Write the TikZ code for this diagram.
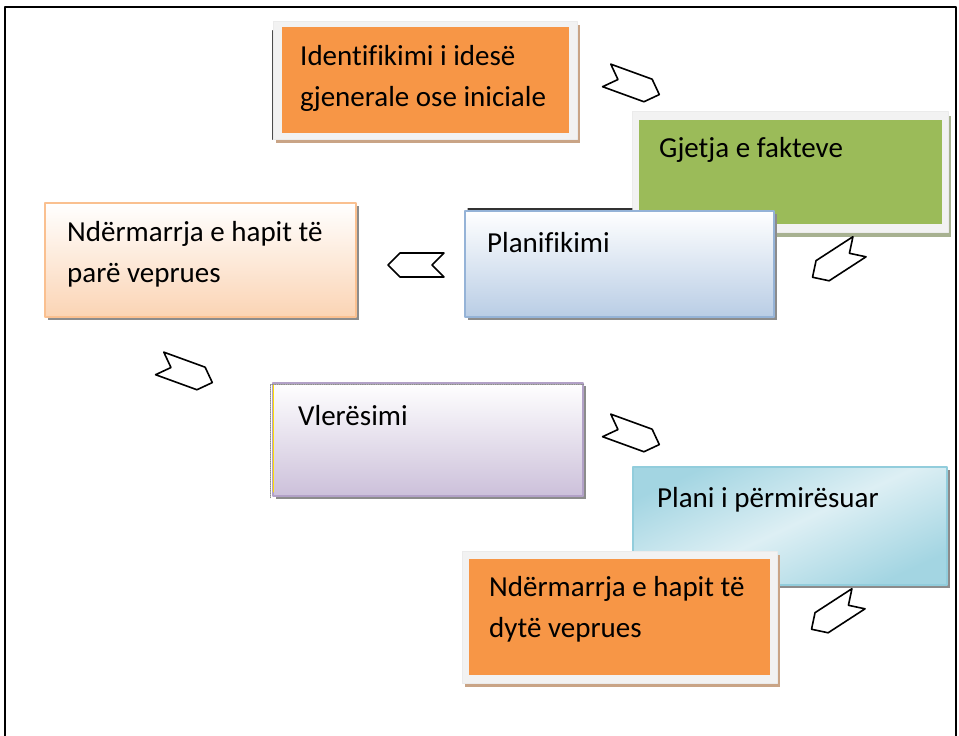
\documentclass[tikz,border=0pt]{standalone}
\usepackage{fontspec}
\setmainfont{Carlito}[Ligatures=NoCommon]
\usetikzlibrary{shapes.symbols,shadows}
\definecolor{orangeA}{HTML}{F79646}
\definecolor{greenA}{HTML}{9BBB59}
\definecolor{blueB}{HTML}{95B3D7}\definecolor{blueF}{HTML}{B9CDE5}
\definecolor{peachB}{HTML}{FAC090}\definecolor{peachF}{HTML}{FBD4B4}
\definecolor{lilacB}{HTML}{B2A1C7}\definecolor{lilacF}{HTML}{CCC0DA}
\definecolor{aquaB}{HTML}{92CDDC}\definecolor{aquaD}{HTML}{A3D5E2}\definecolor{aquaL}{HTML}{DDEFF4}
\definecolor{tanS}{HTML}{C9A486}\definecolor{olivS}{HTML}{A7B190}
\begin{document}
\begin{tikzpicture}[x=1pt, y=-1pt, line join=round, line cap=round,
	sheet/.style={fill=black!5, draw=black!8, line width=.6pt, inner sep=0pt,
		drop shadow={shadow xshift=3pt, shadow yshift=-4pt, opacity=1, fill=#1}},
	card/.style={fill=#1, inner sep=0pt},
	gradcard/.style 2 args={draw=#1, line width=1.6pt, top color=white, bottom color=#2, inner sep=0pt,
		drop shadow={shadow xshift=3pt, shadow yshift=-3pt, opacity=1, fill=black!45}},
	txt/.style={font=\fontsize{29}{41}\selectfont, inner sep=0pt, align=left, anchor=base west},
	flow/.style={signal, signal from=west, signal to=east, draw=black, line width=1.6pt, fill=white,
		minimum width=56pt, minimum height=24pt, inner sep=0pt}]
	\useasboundingbox (0,0) rectangle (959,736);
	\draw[line width=2.6pt, line cap=butt] (5,736) -- (5,7) -- (956,7) -- (956,736);
	% first step
	\node[sheet=tanS, minimum width=304, minimum height=118] (identf) at (425,80) {};
	\draw[black!70, line width=1pt] ([yshift=-10]identf.north west) -- (identf.south west);
	\node[card=orangeA, minimum width=287, minimum height=106] (ident) at (identf) {};
	\node[txt] (identtxt) at (300,106) {Identifikimi i idesë\\gjenerale ose iniciale};
	% facts
	\node[sheet=olivS, minimum width=316, minimum height=121] (factf) at (790,172) {};
	\node[card=greenA, minimum width=303, minimum height=104] (fact) at (factf) {};
	\node[txt] (facttxt) at (659,157) {Gjetja e fakteve};
	% planning
	\draw[black!80, line width=1.2pt] (468,209) -- (632,209);
	\node[gradcard={blueB}{blueF}, minimum width=309, minimum height=106] (plan) at (619.5,264) {};
	\node[txt] (plantxt) at (487,252) {Planifikimi};
	% first action
	\node[gradcard={peachB}{peachF}, minimum width=311, minimum height=114] (act1) at (200.5,260) {};
	\node[txt] (act1txt) at (67,282) {Ndërmarrja e hapit të\\parë veprues};
	% evaluation
	\node[gradcard={lilacB}{lilacF}, minimum width=310, minimum height=113] (eval) at (428,439.5) {};
	\draw[black!45, densely dotted, line width=.8pt] ([xshift=-2,yshift=-1]eval.south west) -- ([xshift=-2,yshift=-2]eval.north west) -- ([yshift=-2]eval.north east);
	\draw[yellow!80!orange, line width=1.2pt] ([xshift=1,yshift=-3]eval.north west) -- ([xshift=1,yshift=5]eval.south west);
	\node[txt] (evaltxt) at (298,425) {Vlerësimi};
	% improved plan
	\node[draw=aquaB, line width=1.6pt, top color=aquaD, bottom color=aquaD, middle color=aquaL, shading angle=25, inner sep=0pt,
		drop shadow={shadow xshift=3pt, shadow yshift=-3pt, opacity=1, fill=black!45},
		minimum width=314, minimum height=118] (impr) at (790,526) {};
	\node[txt] (imprtxt) at (657,507) {Plani i përmirësuar};
	% second action
	\node[sheet=tanS, minimum width=315, minimum height=132] (act2f) at (619.5,617) {};
	\node[card=orangeA, minimum width=301, minimum height=116] (act2) at (act2f) {};
	\node[txt] (act2txt) at (489,637) {Ndërmarrja e hapit të\\dytë veprues};
	% arrows
	\node[flow, rotate=-20] (a1) at (633,85) {};
	\node[flow, rotate=213] (a2) at (836,262) {};
	\node[flow, rotate=180] (a3) at (416,265) {};
	\node[flow, rotate=-20] (a4) at (186,373) {};
	\node[flow, rotate=-20] (a5) at (633,435) {};
	\node[flow, rotate=213] (a6) at (835,614) {};
\end{tikzpicture}
\end{document}
